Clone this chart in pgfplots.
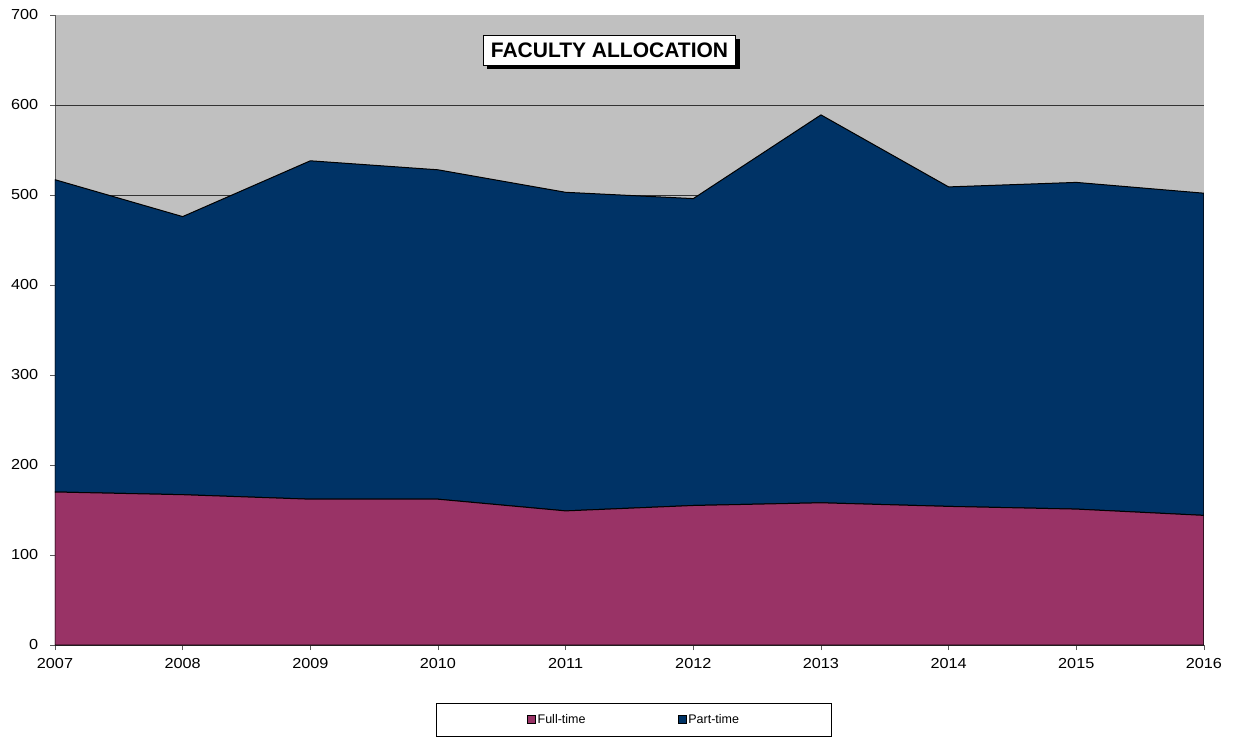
\documentclass[border=0pt]{standalone}
\usepackage{pgfplots}
\pgfplotsset{compat=1.18}
\usepackage{fontspec}
\setmainfont{Liberation Sans}
\usetikzlibrary{shadows}
\definecolor{fullt}{HTML}{993366}
\definecolor{partt}{HTML}{003366}
\definecolor{plotbg}{HTML}{C0C0C0}
\begin{document}
\begin{tikzpicture}
\begin{axis}[
  scale only axis,
  width=1149pt, height=630pt,
  xmin=2007, xmax=2016, ymin=0, ymax=700,
  xtick={2007,2008,...,2016},
  ytick={0,100,...,700},
  stack plots=y,
  axis background/.style={fill=plotbg, draw=none},
  axis x line*=bottom, axis y line*=left,
  axis line style={-, draw=gray!70!black, line width=0.8pt},
  tick align=outside,
  major tick length=5pt,
  tick style={gray!70!black, line width=0.8pt},
  extra y ticks={100,200,300,400,500,600},
  extra y tick labels={},
  extra y tick style={grid=major, major tick length=0pt},
  grid style={black!80, line width=0.8pt},
  /pgf/number format/assume math mode=true,
  /pgf/number format/1000 sep={},
  ticklabel style={font=\fontsize{14.5}{17}\selectfont, xscale=1.12},
  xticklabel style={yshift=-5pt},
  yticklabel style={xshift=-7pt},
  legend style={at={(0.5039,-0.0921)}, anchor=north, draw=black, line width=0.8pt,
    font=\fontsize{12.5}{14}\selectfont, inner xsep=90pt, inner ysep=9pt,
    /tikz/every even column/.append style={column sep=90pt}},
  legend columns=2,
  legend image code/.code={\draw[#1, draw=black, line width=0.8pt] (0pt,-4pt) rectangle (8pt,4pt);},
]
\addplot[fill=fullt, draw=black, line width=1pt] coordinates {
(2007,170) (2008,167) (2009,162) (2010,162) (2011,149) (2012,155) (2013,158) (2014,154) (2015,151) (2016,144)
} \closedcycle;
\addlegendentry{Full-time}
\addplot[fill=partt, draw=black, line width=1pt] coordinates {
(2007,347) (2008,309) (2009,376) (2010,366) (2011,354) (2012,341) (2013,431) (2014,355) (2015,363) (2016,358)
} \closedcycle;
\addlegendentry{Part-time}
\node[draw=black, fill=white, line width=1pt, inner xsep=7.5pt, inner ysep=7.5pt,
  font=\bfseries\fontsize{21}{24}\selectfont,
  drop shadow={shadow xshift=4pt, shadow yshift=-4pt, fill=black, opacity=1}]
  at (rel axis cs:0.4826,0.944) {FACULTY ALLOCATION};
\end{axis}
\path ([shift={(-55pt,-91pt)}]current axis.south west) rectangle ++(1236pt,736pt);
\end{tikzpicture}
\end{document}
